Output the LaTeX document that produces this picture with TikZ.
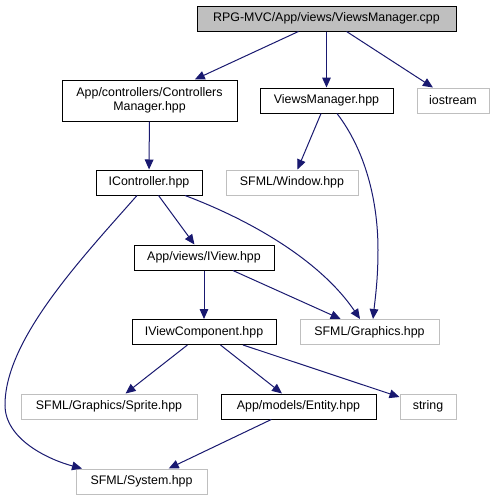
\documentclass[tikz,border=0pt]{standalone}
\usepackage{fontspec}
\setmainfont{Liberation Sans}
\usetikzlibrary{arrows.meta,calc}
\definecolor{edgec}{HTML}{191970}
\definecolor{greyc}{HTML}{BFBFBF}
\begin{document}
\begin{tikzpicture}[x=0.75pt,y=-0.75pt,
  box/.style={draw=black,line width=0.75pt,fill=white,inner sep=0pt,minimum height=18.75pt,
    font=\fontsize{9.3}{10.2}\selectfont,align=center},
  ext/.style={box,draw=greyc},
  rootbox/.style={box,fill=greyc},
  edge/.style={draw=edgec,line width=0.75pt,-{Triangle[length=7.5pt,width=6.5pt]}}]
\useasboundingbox (0,0) rectangle (495,500);
\fill[white] (0,0) rectangle (495,500);
\node[rootbox,minimum width=194.25pt] (root) at (326.5,18.5) {RPG-MVC/App/views/ViewsManager.cpp};
\node[box,minimum width=131.25pt,minimum height=30.75pt] (cm) at (149.5,100.5) {App/controllers/Controllers\\Manager.hpp};
\node[box,minimum width=99.75pt] (vm) at (326.5,100.5) {ViewsManager.hpp};
\node[ext,minimum width=54pt] (io) at (453,100.5) {iostream};
\node[box,minimum width=79.5pt] (ic) at (149,182.5) {IController.hpp};
\node[ext,minimum width=99pt] (win) at (292,182.5) {SFML/Window.hpp};
\node[box,minimum width=105pt] (iv) at (204,257.5) {App/views/IView.hpp};
\node[box,minimum width=108pt] (ivc) at (204,332) {IViewComponent.hpp};
\node[ext,minimum width=104.25pt] (gr) at (369.5,332) {SFML/Graphics.hpp};
\node[ext,minimum width=132pt] (spr) at (109,406.5) {SFML/Graphics/Sprite.hpp};
\node[box,minimum width=116.25pt] (ent) at (298.5,406.5) {App/models/Entity.hpp};
\node[ext,minimum width=42pt] (str) at (428,406.5) {string};
\node[ext,minimum width=98.25pt] (sys) at (141.5,481.5) {SFML/System.hpp};

\draw[edge] (root) -- (cm);
\draw[edge] (root) -- (vm);
\draw[edge] (root) -- (io);
\draw[edge] (cm) -- (ic);
\draw[edge] (vm) -- (win);
\draw[edge] ($(vm.south)+(10.5,0)$) .. controls (365,150) and (378,200) .. (378,250)
   .. controls (378,280) and (375,300) .. ($(gr.north)+(3.5,0)$);
\draw[edge] (ic) -- (iv);
\draw[edge] ($(ic.south)+(36,0)$) .. controls (250,220) and (320,260) .. ($(gr.north)+(-9.5,0)$);
\draw[edge] ($(ic.south)+(-12,0)$) .. controls (80,260) and (5,340) .. (5,405)
   .. controls (5,440) and (50,460) .. ($(sys.north)+(-59.5,0)$);
\draw[edge] (iv) -- (ivc);
\draw[edge] (iv) -- (gr);
\draw[edge] (ivc) -- (spr);
\draw[edge] (ivc) -- (ent);
\draw[edge] (ivc) -- (str);
\draw[edge] (ent) -- (sys);
\end{tikzpicture}
\end{document}
